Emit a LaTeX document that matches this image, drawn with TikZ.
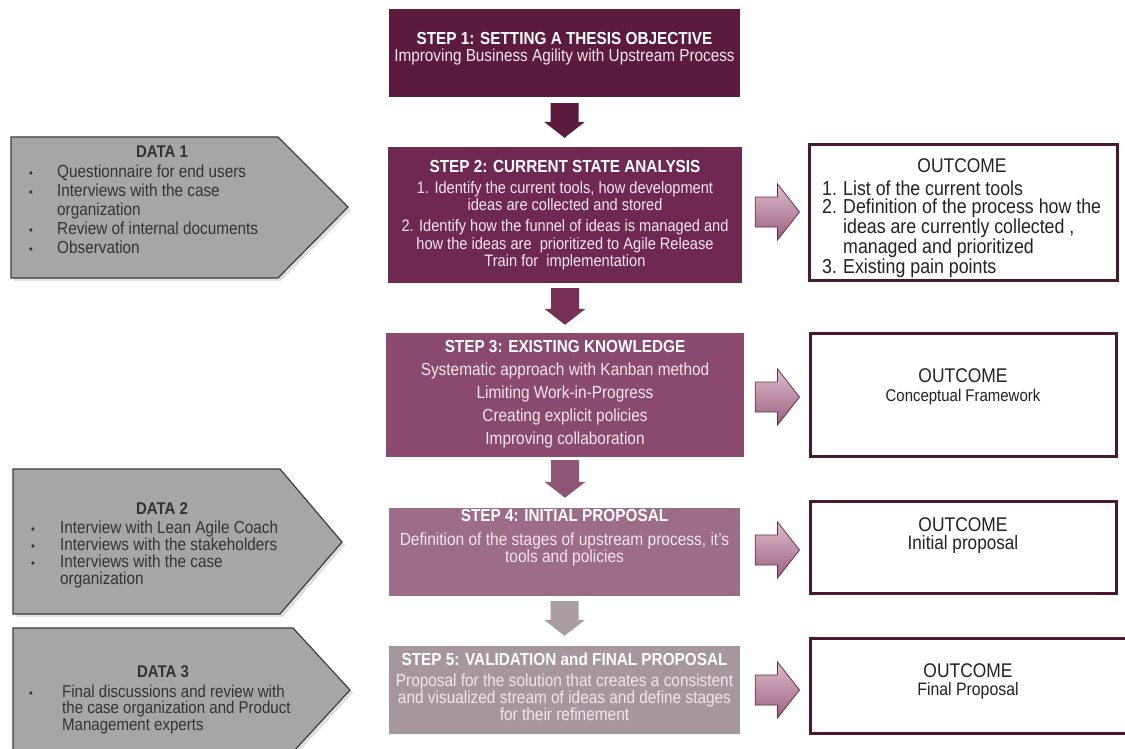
\documentclass[tikz,border=0pt]{standalone}
\usepackage{fontspec}
\setmainfont{Liberation Sans}[FakeStretch=0.88]
\usetikzlibrary{calc,shadows}

\definecolor{stepA}{HTML}{5C1B3D}
\definecolor{stepB}{HTML}{6F2951}
\definecolor{stepC}{HTML}{8A4A6D}
\definecolor{stepD}{HTML}{9D6C86}
\definecolor{stepE}{HTML}{A6979F}
\definecolor{arrA}{HTML}{5C1B3D}
\definecolor{arrB}{HTML}{762E55}
\definecolor{arrC}{HTML}{8E5574}
\definecolor{arrD}{HTML}{A99CA3}
\definecolor{datafill}{HTML}{A6A6A6}
\definecolor{dataline}{HTML}{3C3C3C}
\definecolor{datatext}{HTML}{333333}
\definecolor{outline}{HTML}{4B1831}
\definecolor{outtext}{HTML}{222222}
\definecolor{sidetop}{HTML}{DDBDCC}
\definecolor{sidebot}{HTML}{9B5F7F}
\definecolor{sideline}{HTML}{6A2D4C}
\definecolor{bodytext}{HTML}{F3E6ED}

\newcommand\fs[2]{\fontsize{#1pt}{#2pt}\selectfont}
\newcommand\bul[1]{\makebox[#1][l]{\scalebox{0.7}{\textbullet}}}
\newcommand\num[1]{\makebox[21pt][l]{#1}}

\tikzset{
  stepbox/.style={inner sep=0pt, draw=none},
  steptext/.style={inner sep=0pt, align=center, anchor=north, text=bodytext},
  outbox/.style={draw=outline, line width=3pt, fill=white, inner sep=0pt,
    drop shadow={shadow xshift=2pt, shadow yshift=-2pt, opacity=0.25}},
  outtitle/.style={inner sep=0pt, align=center, anchor=north, text=outtext},
  databox/.style={draw=dataline, line width=1.2pt, fill=datafill,
    drop shadow={shadow xshift=3pt, shadow yshift=-3pt, opacity=0.25}},
  datahead/.style={inner sep=0pt, anchor=north, text=datatext, font=\fs{17}{20}\bfseries},
  dataitems/.style={inner sep=0pt, anchor=north west, align=left, text=datatext},
  downarrow/.style={to path={let \p1=(\tikztostart), \p2=(\tikztotarget) in
    (\x1-14pt,\y1) -- (\x1+14pt,\y1) -- (\x1+14pt,\y2+16pt) -- (\x1+20.5pt,\y2+16pt)
    -- (\x1,\y2) -- (\x1-20.5pt,\y2+16pt) -- (\x1-14pt,\y2+16pt) -- cycle}},
  rightarrow/.style={draw=sideline, line width=0.8pt, top color=sidetop, bottom color=sidebot,
    to path={let \p1=(\tikztostart), \p2=(\tikztotarget) in
    (\x1,\y1+15pt) -- (\x2-22pt,\y1+15pt) -- (\x2-22pt,\y1+28pt) -- (\x2,\y1)
    -- (\x2-22pt,\y1-28pt) -- (\x2-22pt,\y1-15pt) -- (\x1,\y1-15pt) -- cycle}}
}

\begin{document}
\begin{tikzpicture}[x=1pt, y=-1pt]
\useasboundingbox (0,0) rectangle (1125,749);

% ---- data inputs on the left ----
\path[databox] (11,137) -- (278,137) -- (348,207) -- (278,278) -- (11,278) -- cycle;
\path[databox] (13,469) -- (280,469) -- (342,542) -- (280,614) -- (13,614) -- cycle;
\path[databox] (13,628) -- (293,628) -- (350,690) -- (293,752) -- (13,752) -- cycle;

\node[datahead] (d1h) at (162,145.8) {DATA 1};
\node[dataitems, font=\fs{17.4}{19}] (d1i) at (29,164.5) {%
  \bul{28pt}Questionnaire for end users\\
  \bul{28pt}Interviews with the case\\
  \hspace*{28pt}organization\\
  \bul{28pt}Review of internal documents\\
  \bul{28pt}Observation};

\node[datahead] (d2h) at (162,502.8) {DATA 2};
\node[dataitems, font=\fs{17.4}{17}] (d2i) at (31,520.5) {%
  \bul{29pt}Interview with Lean Agile Coach\\
  \bul{29pt}Interviews with the stakeholders\\
  \bul{29pt}Interviews with the case\\
  \hspace*{29pt}organization};

\node[datahead] (d3h) at (163,665.8) {DATA 3};
\node[dataitems, font=\fs{17.1}{16.5}] (d3i) at (29,684.8) {%
  \bul{33pt}Final discussions and review with\\
  \hspace*{33pt}the case organization and Product\\
  \hspace*{33pt}Management experts};

% ---- process steps ----
\node[stepbox, fill=stepA, minimum width=351pt, minimum height=88pt] (s1) at (564.5,53) {};
\node[stepbox, fill=stepB, minimum width=354pt, minimum height=136pt] (s2) at (565,215) {};
\node[stepbox, fill=stepC, minimum width=358pt, minimum height=124pt] (s3) at (565,395) {};
\node[stepbox, fill=stepD, minimum width=351pt, minimum height=88pt] (s4) at (564.5,552) {};
\node[stepbox, fill=stepE, minimum width=351pt, minimum height=88pt] (s5) at (564.5,690) {};

\node[steptext, font=\fs{17.4}{17}] (s1t) at (564.5,32.5) {%
  {\color{white}\bfseries STEP 1: SETTING A THESIS OBJECTIVE}\\
  Improving Business Agility with Upstream Process};

\node[steptext, font=\fs{16.6}{17}] (s2t) at (565,160.5) {%
  {\color{white}\fs{17.4}{17}\bfseries STEP 2: CURRENT STATE ANALYSIS}\\[4pt]
  1. Identify the current tools, how development\\
  ideas are collected and stored\\[4pt]
  2. Identify how the funnel of ideas is managed and\\[1pt]
  how the ideas are \ prioritized to Agile Release\\
  Train for \ implementation};

\node[steptext, font=\fs{17.5}{23}] (s3t) at (565,340.5) {%
  {\color{white}\fs{17.4}{23}\bfseries STEP 3: EXISTING KNOWLEDGE}\\
  Systematic approach with Kanban method\\
  Limiting Work-in-Progress\\
  Creating explicit policies\\
  Improving collaboration};

\node[steptext, font=\fs{17.6}{17}] (s4t) at (564.5,509.5) {%
  {\color{white}\fs{17.4}{17}\bfseries STEP 4: INITIAL PROPOSAL}\\[7pt]
  Definition of the stages of upstream process, it's\\
  tools and policies};

\node[steptext, font=\fs{17.5}{17}] (s5t) at (564.5,652.5) {%
  {\color{white}\fs{17.4}{17}\bfseries STEP 5: VALIDATION and FINAL PROPOSAL}\\[4pt]
  Proposal for the solution that creates a consistent\\
  and visualized stream of ideas and define stages\\
  for their refinement};

% ---- arrows between steps ----
\draw[fill=arrA, draw=none] ($(s1.south)+(0,6)$) to[downarrow] ($(s2.north)+(0,-9)$);
\draw[fill=arrB, draw=none] ($(s2.south)+(0,5)$) to[downarrow] ($(s3.north)+(0,-8)$);
\draw[fill=arrC, draw=none] ($(s3.south)+(0,3)$) to[downarrow] ($(s4.north)+(0,-10)$);
\draw[fill=arrD, draw=none] ($(s4.south)+(0,5)$) to[downarrow] ($(s5.north)+(0,-10)$);

% ---- outcomes on the right ----
\node[outbox, minimum width=308pt, minimum height=135pt] (o1) at (963,212.5) {};
\node[outbox, minimum width=306pt, minimum height=123pt] (o2) at (963,394.5) {};
\node[outbox, minimum width=306pt, minimum height=92pt] (o3) at (963,547) {};
\node[outbox, minimum width=324pt, minimum height=95pt] (o4) at (972,685.5) {};

\node[outtitle, font=\fs{19.8}{19}] (o1h) at (962,158.8) {OUTCOME};
\node[inner sep=0pt, anchor=north west, align=left, text=outtext, font=\fs{20.2}{18.3}] (o1i) at (822,180.5) {%
  \num{1.}List of the current tools\\
  \num{2.}Definition of the process how the\\
  \hspace*{21pt}ideas are currently collected ,\\
  \hspace*{21pt}managed and prioritized\\
  \num{3.}Existing pain points};

\node[outtitle, font=\fs{19.8}{19}] (o2t) at (963,368.8) {OUTCOME\\{\fs{17}{19}Conceptual Framework}};
\node[outtitle, font=\fs{19.8}{18}] (o3t) at (963,517.8) {OUTCOME\\{\fs{19.5}{18}Initial proposal}};
\node[outtitle, font=\fs{19.8}{18}] (o4t) at (968,663.8) {OUTCOME\\{\fs{18}{18}Final Proposal}};

% ---- arrows from steps to outcomes ----
\draw[rightarrow] ($(s2.east)+(13,-3)$) to ($(o1.west)+(-8,0)$);
\draw[rightarrow] ($(s3.east)+(11,2)$) to ($(o2.west)+(-9,0)$);
\draw[rightarrow] ($(s4.east)+(15,-2)$) to ($(o3.west)+(-9,0)$);
\draw[rightarrow] ($(s5.east)+(15,0)$) to ($(o4.west)+(-9,0)$);
\end{tikzpicture}
\end{document}
